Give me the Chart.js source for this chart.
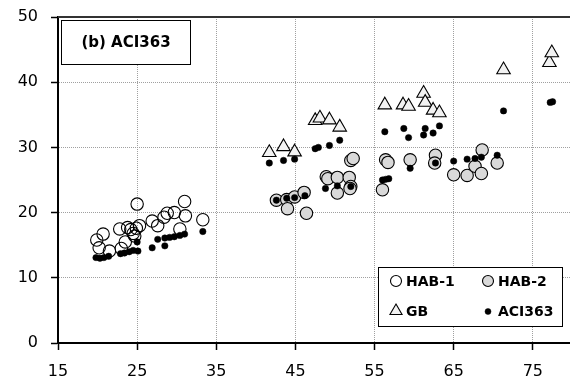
<!DOCTYPE html>
<html>
<head>
<meta charset="utf-8">
<script src="https://cdn.jsdelivr.net/npm/chart.js@4/dist/chart.umd.min.js"></script>
<style>
html,body{margin:0;padding:0;background:#fff;overflow:hidden;}
#wrap{width:570px;height:382px;position:relative;}
</style>
</head>
<body>
<div id="wrap"><canvas id="c" width="570" height="382"></canvas></div>
<script>
const xTicks = [15, 25, 35, 45, 55, 65, 75];
const yTicks = [0, 10, 20, 30, 40, 50];
const titleText = "(b) ACI363";
const seriesNames = ["HAB-1", "HAB-2", "GB", "ACI363"];

const hab1 = [[19.9,15.8],[20.7,16.7],[20.2,14.6],[21.5,14.1],[22.8,17.5],[23.0,14.5],[23.5,15.5],[23.8,17.7],[24.2,17.4],[24.5,16.8],[24.9,17.6],[25.0,21.3],[25.3,18.0],[24.7,16.4],[26.9,18.7],[27.6,18.0],[28.4,19.3],[28.8,19.9],[29.7,20.0],[30.4,17.5],[31.0,21.7],[31.1,19.5],[33.3,18.9]];
const hab2 = [[42.6,21.9],[43.9,22.0],[44.9,22.4],[46.1,23.1],[44.0,20.6],[46.4,19.9],[48.9,25.5],[49.1,25.2],[50.3,25.4],[51.8,25.4],[50.3,23.0],[52.0,24.0],[51.9,23.7],[52.0,28.0],[52.3,28.3],[56.0,23.5],[56.4,28.1],[56.7,27.7],[59.5,28.1],[62.7,28.8],[62.6,27.6],[65.0,25.8],[66.7,25.7],[67.7,27.1],[68.6,29.6],[68.5,26.0],[70.5,27.6]];
const gb = [[41.7,29.2],[43.5,30.1],[44.9,29.3],[47.5,34.1],[48.1,34.5],[49.3,34.2],[50.6,33.1],[56.3,36.5],[58.6,36.5],[59.3,36.3],[61.2,38.3],[61.4,36.9],[62.4,35.7],[63.2,35.3],[71.3,41.9],[77.1,43.0],[77.4,44.5]];
const aci363 = [[19.8,13.1],[20.3,13.0],[20.8,13.1],[21.4,13.3],[22.9,13.7],[23.4,13.8],[24.0,14.0],[24.5,14.2],[25.1,14.1],[25.0,15.5],[26.9,14.6],[27.6,15.9],[28.5,14.9],[28.5,16.1],[29.1,16.2],[29.7,16.3],[30.4,16.5],[31.0,16.7],[33.3,17.1],
  [41.7,27.6],[43.5,28.0],[44.9,28.2],[47.5,29.8],[47.9,30.0],[49.3,30.3],[50.6,31.1],
  [42.6,21.9],[43.9,22.2],[44.9,22.3],[46.2,22.6],[48.8,23.7],[50.3,24.1],[52.0,24.0],
  [56.0,25.0],[56.4,25.1],[56.8,25.2],[59.5,26.8],[62.7,27.6],[65.0,27.9],[66.7,28.2],[67.7,28.3],[68.5,28.5],[70.5,28.8],
  [56.3,32.4],[58.7,32.9],[59.3,31.5],[61.2,31.9],[61.4,32.9],[62.4,32.2],[63.2,33.3],[71.3,35.6],[77.2,36.9],[77.5,37.0]];

const toPts = a => a.map(p => ({x: p[0], y: p[1]}));

const styles = [
  {pointStyle:'circle', pointRadius:6.2, pointBackgroundColor:'rgba(255,255,255,0)', pointBorderColor:'#000', pointBorderWidth:1.1, order:2},
  {pointStyle:'circle', pointRadius:6.2, pointBackgroundColor:'#d9d9d9', pointBorderColor:'#000', pointBorderWidth:1.1, order:3},
  {pointStyle:'triangle', pointRadius:7.8, pointBackgroundColor:'#f2f2f2', pointBorderColor:'#000', pointBorderWidth:1.1, order:1},
  {pointStyle:'circle', pointRadius:3.2, pointBackgroundColor:'#000', pointBorderColor:'#000', pointBorderWidth:0.5, order:0}
];
const dataArr = [hab1, hab2, gb, aci363];

const datasets = seriesNames.map((n, i) => Object.assign({label: n, data: toPts(dataArr[i]), showLine:false}, styles[i]));

const boxes = {
  id: 'boxes',
  afterDraw(chart) {
    const ctx = chart.ctx;
    const ca = chart.chartArea;
    ctx.save();
    ctx.strokeStyle = '#333';
    ctx.lineWidth = 2;
    ctx.beginPath();
    ctx.moveTo(ca.left, ca.top);
    ctx.lineTo(ca.right, ca.top);
    ctx.stroke();
    ctx.fillStyle = '#fff';
    ctx.fillRect(61, 20, 129, 44);
    ctx.strokeStyle = '#000';
    ctx.lineWidth = 1;
    ctx.strokeRect(61.5, 20.5, 129, 44);
    ctx.fillStyle = '#000';
    ctx.font = 'bold 15px "DejaVu Sans"';
    ctx.textAlign = 'center';
    ctx.textBaseline = 'middle';
    ctx.fillText(titleText, 126, 43);
    ctx.fillStyle = '#fff';
    ctx.fillRect(378, 267, 185, 60);
    ctx.strokeRect(378.5, 267.5, 184, 59);
    const items = [
      {x: 396, y: 281, tx: 406},
      {x: 488, y: 281, tx: 498},
      {x: 396, y: 311, tx: 406},
      {x: 488, y: 311.5, tx: 498}
    ];
    const legR = [5.5, 5.5, 7, 3];
    items.forEach((it, i) => {
      const s = styles[i];
      ctx.fillStyle = s.pointBackgroundColor;
      ctx.strokeStyle = s.pointBorderColor;
      ctx.lineWidth = s.pointBorderWidth;
      Chart.helpers.drawPoint(ctx, {pointStyle: s.pointStyle, radius: legR[i], borderWidth: s.pointBorderWidth}, it.x, it.y);
      ctx.fillStyle = '#000';
      ctx.font = 'bold 14px "DejaVu Sans"';
      ctx.textAlign = 'left';
      ctx.textBaseline = 'middle';
      ctx.fillText(seriesNames[i], it.tx, it.y + 1);
    });
    ctx.restore();
  }
};

new Chart(document.getElementById('c'), {
  type: 'scatter',
  data: {datasets},
  options: {
    responsive: false,
    animation: false,
    layout: {autoPadding: false, padding: {top: 17, right: 0, left: 0, bottom: 0}},
    plugins: {legend: {display: false}, tooltip: {enabled: false}},
    scales: {
      x: {
        type: 'linear', min: 15, max: 79.7,
        afterBuildTicks: s => { s.ticks = xTicks.map(v => ({value: v})); },
        afterFit: s => { s.height = 39; s.paddingLeft = 0; s.paddingRight = 0; },
        grid: {color: '#a0a0a0', lineWidth: 1, tickLength: 7, tickColor: '#000', tickWidth: 1.5, drawTicks: true},
        border: {color: '#000', width: 2, dash: [1, 1]},
        ticks: {color: '#000', font: {family: 'DejaVu Sans', size: 16}, padding: 12, maxRotation: 0, autoSkip: false}
      },
      y: {
        type: 'linear', min: 0, max: 50,
        afterBuildTicks: s => { s.ticks = yTicks.map(v => ({value: v})); },
        afterFit: s => { s.width = 58; s.paddingTop = 0; s.paddingBottom = 0; },
        grid: {color: '#a0a0a0', lineWidth: 1, tickLength: 7, tickColor: '#000', tickWidth: 1.5, drawTicks: true},
        border: {color: '#000', width: 2, dash: [1, 1]},
        ticks: {color: '#000', font: {family: 'DejaVu Sans', size: 16}, padding: 13, autoSkip: false}
      }
    }
  },
  plugins: [boxes]
});
</script>
</body>
</html>
